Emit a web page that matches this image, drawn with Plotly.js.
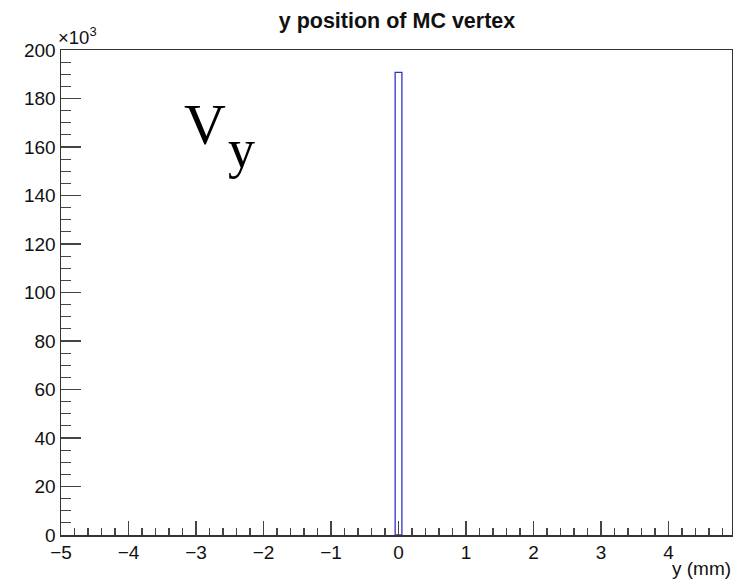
<!DOCTYPE html>
<html>
<head>
<meta charset="utf-8">
<script src="https://cdn.plot.ly/plotly-3.0.1.min.js"></script>
<style>html,body{margin:0;padding:0;background:#fff;}#chart{width:733px;height:582px;}</style>
</head>
<body>
<div id="chart"></div>
<script>
// Histogram data: y position of MC vertex (100 bins from -5 to 5 mm, only one non-empty bin)
const binCenters = [0];
const binCounts = [190800];
const binWidth = 0.1;
const yTickVals = [0, 20000, 40000, 60000, 80000, 100000, 120000, 140000, 160000, 180000, 200000];
const yTickText = ["0", "20", "40", "60", "80", "100", "120", "140", "160", "180", "200"];
const xTickVals = [-5, -4, -3, -2, -1, 0, 1, 2, 3, 4];
const xTickText = ["\u22125", "\u22124", "\u22123", "\u22122", "\u22121", "0", "1", "2", "3", "4"];

const L = 61, R = 1, T = 50, B = 46.5;
const W = 733, H = 582;
const pw = W - L - R, ph = H - T - B;
const px = v => (v - L) / pw;
const py = v => (H - B - v) / ph;

const trace = {
  type: 'bar',
  x: binCenters,
  y: binCounts,
  width: binCenters.map(() => binWidth),
  marker: {color: 'rgba(0,0,0,0)', line: {color: 'rgb(50,50,200)', width: 1.3}},
  hoverinfo: 'x+y'
};

const axisFont = {family: 'Liberation Sans, Arial, sans-serif', size: 19, color: '#111'};

const layout = {
  width: W, height: H,
  margin: {l: L, r: R, t: T, b: B, pad: 0},
  paper_bgcolor: '#fff', plot_bgcolor: '#fff',
  showlegend: false,
  font: axisFont,
  title: {
    text: '<b>y position of MC vertex</b>',
    font: {family: 'Liberation Sans, Arial, sans-serif', size: 21.5, color: '#111'},
    xref: 'container', x: 397 / W, xanchor: 'center',
    yref: 'container', y: 1 - 20 / H, yanchor: 'middle'
  },
  xaxis: {
    range: [-5, 4.94],
    showgrid: false, zeroline: false,
    showline: true, linecolor: '#333', linewidth: 1.5, mirror: true,
    ticks: 'inside', ticklen: 14, tickwidth: 1.2, tickcolor: '#444',
    tickvals: xTickVals, ticktext: xTickText,
    tickfont: axisFont,
    minor: {ticks: 'inside', ticklen: 7, tickwidth: 1.2, tickcolor: '#444', dtick: 0.2, tick0: 0, showgrid: false}
  },
  yaxis: {
    range: [0, 200000],
    showgrid: false, zeroline: false,
    showline: true, linecolor: '#333', linewidth: 1.5, mirror: true,
    ticks: 'inside', ticklen: 20, tickwidth: 1.2, tickcolor: '#444',
    tickvals: yTickVals, ticktext: yTickText,
    tickfont: axisFont,
    minor: {ticks: 'inside', ticklen: 10, tickwidth: 1.2, tickcolor: '#444', dtick: 5000, tick0: 0, showgrid: false}
  },
  annotations: [
    {xref: 'paper', yref: 'paper', x: px(56), y: py(50), xanchor: 'left', yanchor: 'bottom',
     text: '\u00d710<sup>3</sup>', showarrow: false,
     font: {family: 'Liberation Sans, Arial, sans-serif', size: 18.5, color: '#111'}},
    {xref: 'paper', yref: 'paper', x: px(733), y: py(582), xanchor: 'right', yanchor: 'bottom',
     text: 'y (mm)', showarrow: false,
     font: {family: 'Liberation Sans, Arial, sans-serif', size: 19, color: '#111'}},
    {xref: 'paper', yref: 'paper', x: px(205), y: py(125), xanchor: 'center', yanchor: 'middle',
     text: 'V', showarrow: false,
     font: {family: 'Liberation Serif, Times New Roman, serif', size: 58, color: '#000'}},
    {xref: 'paper', yref: 'paper', x: px(241), y: py(149), xanchor: 'center', yanchor: 'middle',
     text: 'y', showarrow: false,
     font: {family: 'Liberation Serif, Times New Roman, serif', size: 54, color: '#000'}}
  ]
};

Plotly.newPlot('chart', [trace], layout, {displayModeBar: false, staticPlot: true});
</script>
</body>
</html>
